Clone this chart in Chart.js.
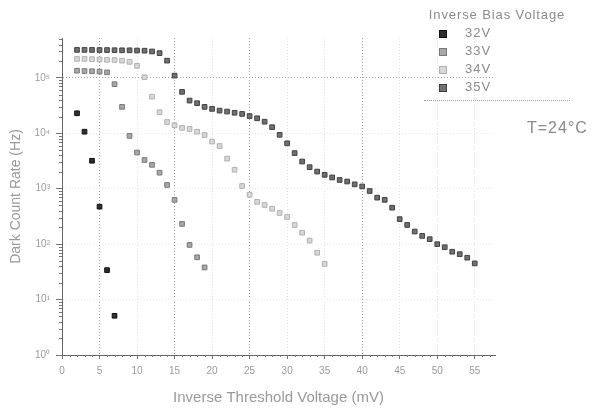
<!DOCTYPE html>
<html>
<head>
<meta charset="utf-8">
<script src="https://cdn.jsdelivr.net/npm/chart.js@4.4.1/dist/chart.umd.min.js"></script>
<style>
  body { margin:0; background:#fff; font-family:"Liberation Sans", Arial, sans-serif; }
  #wrap { position:relative; width:593px; height:408px; }
  #legend { position:absolute; left:424px; top:6px; width:146px; color:#8a8a8a; border-bottom:1px dotted #9a9a9a; padding-bottom:4px; }
  #legend .ttl { font-size:13px; line-height:18px; text-align:center; letter-spacing:0.9px; white-space:nowrap; }
  #legend .row { height:18px; line-height:18px; font-size:13px; letter-spacing:1px; position:relative; }
  #legend .mk { position:absolute; left:15px; top:6px; width:6px; height:6px; }
  #legend .lb { position:absolute; left:41px; }
  #temp { position:absolute; left:527px; top:119px; font-size:16px; line-height:18px; letter-spacing:1px; color:#8a8a8a; }
</style>
</head>
<body>
<div id="wrap">
  <canvas id="darkChart" width="593" height="408"></canvas>
  <div id="legend"></div>
  <div id="temp">T=24°C</div>
</div>
<script>
const seriesNames = ['32V','33V','34V','35V'];

const x32 = [2,3,4,5,6,7];
const y32 = [23000,10700,3200,475,34,5.1];

const x33 = [2,3,4,5,6,7,8,9,10,11,12,13,14,15,16,17,18,19];
const y33 = [135000,133000,132000,130000,126000,77000,30000,9000,4500,3300,2700,1950,1170,630,232,97,58,38];

const x34 = [2,3,4,5,6,7,8,9,10,11,12,13,14,15,16,17,18,19,20,21,22,23,24,25,26,27,28,29,30,31,32,33,34,35];
const y34 = [220000,220000,218000,215000,212000,210000,205000,195000,165000,103000,46000,24000,16000,14000,12500,12000,10700,9300,7100,5900,3500,2200,1120,780,580,510,435,365,310,222,161,116,70,44];

const x35 = [2,3,4,5,6,7,8,9,10,11,12,13,14,15,16,17,18,19,20,21,22,23,24,25,26,27,28,29,30,31,32,33,34,35,36,37,38,39,40,41,42,43,44,45,46,47,48,49,50,51,52,53,54,55];
const y35 = [320000,320000,320000,318000,318000,316000,315000,315000,312000,310000,300000,280000,205000,110000,56000,39000,35000,30000,27600,25700,24700,23500,22400,20500,18700,16200,12900,9400,6600,4400,3100,2450,2040,1780,1600,1440,1350,1200,1100,910,690,630,455,283,222,169,141,123,100,88,73,66,57,45];

const xTicks = [0,5,10,15,20,25,30,35,40,45,50,55];
const yTicks = [1,10,100,1000,10000,100000];

const fills = ['#2e2e2e','#a8a8a8','#d8d8d8','#707070'];
const edges = ['#111111','#787878','#b0b0b0','#404040'];

const sup = {0:'⁰',1:'¹',2:'²',3:'³',4:'⁴',5:'⁵'};
const toPts = (xs, ys) => xs.map((x, i) => ({ x: x, y: ys[i] }));
const allX = [x32, x33, x34, x35];
const allY = [y32, y33, y34, y35];

// small log and unit tick marks along both axes
const minorTicks = {
  id: 'minorTicks',
  afterDraw(chart) {
    const ctx = chart.ctx;
    const xs = chart.scales.x, ys = chart.scales.y;
    ctx.save();
    ctx.strokeStyle = '#777';
    ctx.lineWidth = 1;
    ctx.beginPath();
    for (let d = 0; d < 6; d++) {
      for (let m = 2; m <= 9; m++) {
        const v = m * Math.pow(10, d);
        if (v > ys.max) continue;
        const py = Math.round(ys.getPixelForValue(v)) + 0.5;
        ctx.moveTo(xs.left - 3, py);
        ctx.lineTo(xs.left, py);
      }
    }
    for (let v = 0; v <= 57; v++) {
      if (v % 5 === 0) continue;
      const px = Math.round(xs.getPixelForValue(v)) + 0.5;
      ctx.moveTo(px, ys.bottom);
      ctx.lineTo(px, ys.bottom + 2);
    }
    ctx.stroke();
    ctx.restore();
  }
};

new Chart(document.getElementById('darkChart'), {
  type: 'scatter',
  data: {
    datasets: seriesNames.map((name, i) => ({
      label: name,
      data: toPts(allX[i], allY[i]),
      pointStyle: 'rect',
      pointRadius: 3.3,
      pointBorderWidth: 1,
      backgroundColor: fills[i],
      borderColor: edges[i],
      showLine: false
    }))
  },
  options: {
    responsive: false,
    animation: false,
    layout: { padding: { top: 38, right: 98, left: 0, bottom: 0 } },
    plugins: { legend: { display: false }, tooltip: { enabled: false } },
    scales: {
      x: {
        type: 'linear',
        min: 0,
        max: 57.7,
        afterBuildTicks: s => { s.ticks = xTicks.map(v => ({ value: v })); },
        afterFit: s => { s.height = 53; },
        ticks: { color:'#9a9a9a', font:{ size:10 }, padding: 6 },
        grid: {
          color: c => [5,15,25,40].includes(c.tick && c.tick.value) ? '#9a9a9a' : '#e0e0e0',
          tickLength: 4,
          tickColor: '#777'
        },
        border: { color:'#666', width:1, dash:[1,2] },
        title: { display:true, text:'Inverse Threshold Voltage (mV)', color:'#999', font:{ size:15 }, padding:{ top:0, bottom:1 } }
      },
      y: {
        type: 'logarithmic',
        min: 1,
        max: 525000,
        afterBuildTicks: s => { s.ticks = yTicks.map(v => ({ value: v })); },
        afterFit: s => { s.width = 62; },
        ticks: {
          color:'#9a9a9a', font:{ size:10 }, padding: 6,
          callback: v => '10' + sup[Math.round(Math.log10(v))]
        },
        grid: {
          color: c => (c.tick && c.tick.value === 100000) ? '#a8a8a8' : '#e6e6e6',
          tickLength: 6,
          tickColor: '#777'
        },
        border: { color:'#666', width:1, dash:[1,2] },
        title: { display:true, text:'Dark Count Rate (Hz)', color:'#999', font:{ size:14 }, padding:{ top:8, bottom:0 } }
      }
    }
  },
  plugins: [minorTicks]
});

const legend = document.getElementById('legend');
let html = '<div class="ttl">Inverse Bias Voltage</div>';
seriesNames.forEach((name, i) => {
  html += '<div class="row"><span class="mk" style="background:' + fills[i] + ';border:1px solid ' + edges[i] + '"></span><span class="lb">' + name + '</span></div>';
});
legend.innerHTML = html;
</script>
</body>
</html>
